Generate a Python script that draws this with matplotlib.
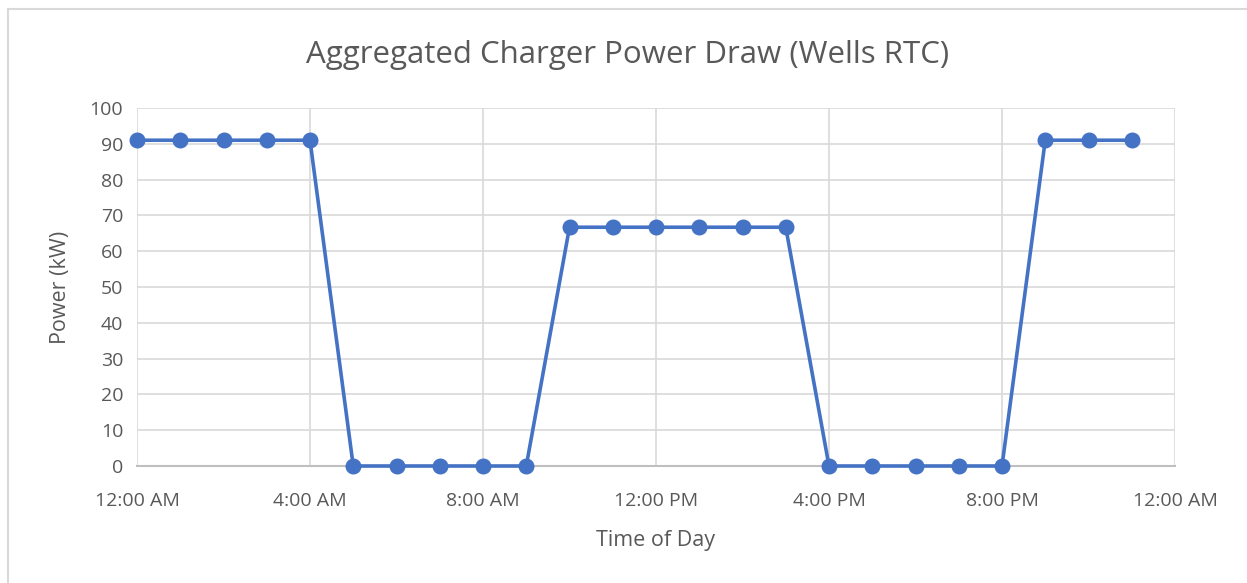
import matplotlib.pyplot as plt
from matplotlib.patches import Rectangle

# hourly samples over one day
hours = list(range(24))
power_kw = [91, 91, 91, 91, 91,
            0, 0, 0, 0, 0,
            66.7, 66.7, 66.7, 66.7, 66.7, 66.7,
            0, 0, 0, 0, 0,
            91, 91, 91]

tick_hours = [0, 4, 8, 12, 16, 20, 24]
tick_labels = ['12:00 AM', '4:00 AM', '8:00 AM', '12:00 PM', '4:00 PM', '8:00 PM', '12:00 AM']
y_ticks = list(range(0, 101, 10))

plt.rcParams['font.family'] = ['Open Sans', 'DejaVu Sans']
text_col = '#595959'
grid_col = '#d9d9d9'

fig = plt.figure(figsize=(12.47, 5.83), dpi=100)
ax = fig.add_axes([137/1247, 1-466/583, (1175-137)/1247, (466-108)/583])

# chart border
fig.patches.append(Rectangle((8/1247, -0.05), 1, 1.05-9/583, transform=fig.transFigure,
                             fill=False, edgecolor='#d9d9d9', linewidth=1.5))

ax.plot(hours, power_kw, color='#4472c4', linewidth=2.6, marker='o', markersize=10.5,
        zorder=3, clip_on=False)

ax.set_xlim(0, 24)
ax.set_ylim(0, 100)
ax.set_xticks(tick_hours)
ax.set_xticklabels(tick_labels)
ax.set_yticks(y_ticks)
ax.grid(True, color=grid_col, linewidth=1.2)
ax.set_axisbelow(True)

for s in ['top', 'right', 'left']:
    ax.spines[s].set_visible(False)
ax.spines['bottom'].set_color('#bfbfbf')
ax.spines['bottom'].set_linewidth(1.5)
ax.tick_params(axis='x', length=0, labelsize=14, colors=text_col, pad=19)
ax.tick_params(axis='y', length=0, labelsize=14, colors=text_col, pad=10)

fig.text(628/1247, 1-55/583, 'Aggregated Charger Power Draw (Wells RTC)', fontsize=22.5,
         color=text_col, ha='center', va='center')
ax.set_xlabel('Time of Day', fontsize=15.5, color=text_col, labelpad=14)
ax.set_ylabel('Power (kW)', fontsize=15.5, color=text_col, labelpad=13)

fig.savefig('out.png', dpi=100)
